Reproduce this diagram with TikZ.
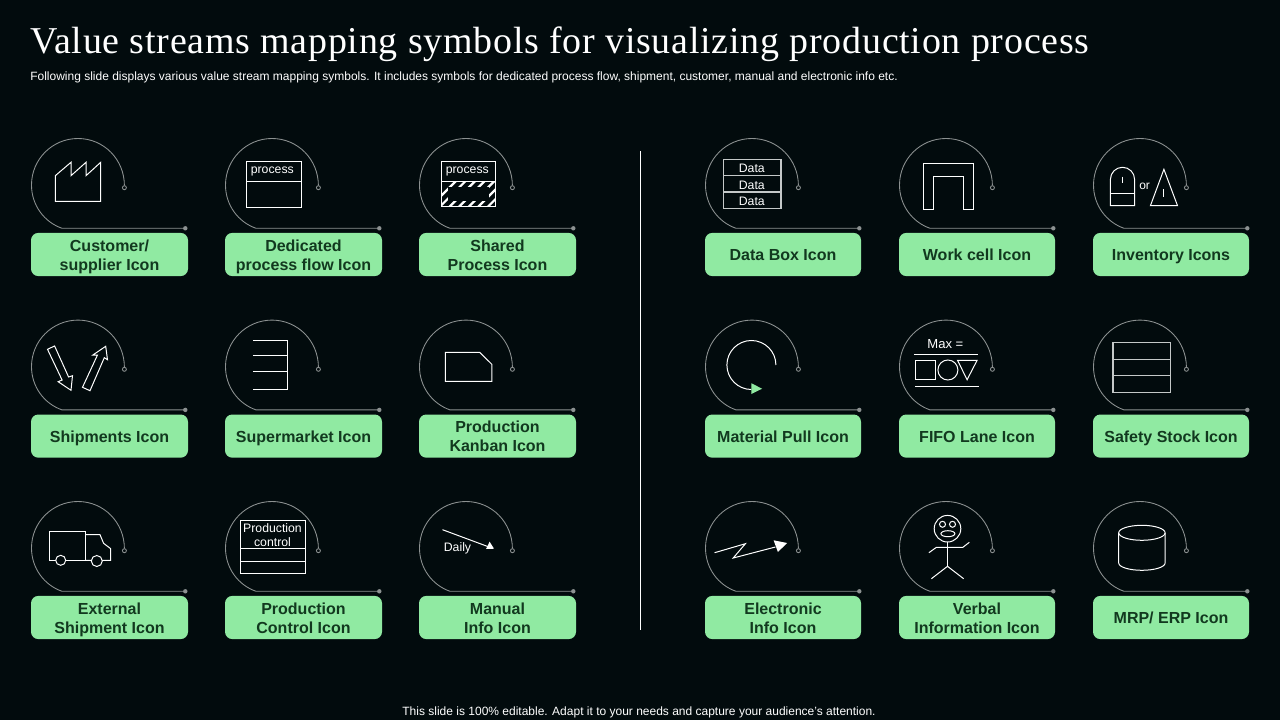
\documentclass[tikz,border=0pt]{standalone}
\usepackage{fontspec}
\setmainfont{Liberation Sans}
\newfontfamily\titlefont[LetterSpace=2.0]{Liberation Serif}
\usetikzlibrary{calc}
\definecolor{bgc}{HTML}{020B0D}
\definecolor{cardc}{HTML}{90EAA2}
\definecolor{cardt}{HTML}{12391F}
\definecolor{ringc}{HTML}{8C9191}
\definecolor{softw}{HTML}{C4C8C8}
\newcommand{\lblstrut}{\rule[-2.8pt]{0pt}{11pt}}
\newcommand{\cardline}[1]{\lblstrut #1\lblstrut}
\tikzset{
  ring/.style={draw=ringc,line width=0.65pt},
  ico/.style={draw=white,line width=0.75pt,line join=miter},
  icosoft/.style={draw=softw,line width=1pt},
  cardback/.style={fill=cardc,rounded corners=5.5pt,inner sep=0pt,minimum height=32.4pt},
  cardtext/.style={inner sep=0pt,align=center,text=cardt,font=\fontsize{12}{14.2}\selectfont\bfseries},
  icotext/.style={text=white,inner sep=0pt,font=\fontsize{9.2}{11}\selectfont},
}
\newcommand{\ringcard}[5]{% name, dx, dy, width px, label
  \begin{scope}[shift={(#2,#3)}]
    \draw[ring] (124.4,185.7) .. controls (124.4,159.3) and (103.7,138.5) .. (78,138.5)
      .. controls (52.3,138.5) and (31.5,159.3) .. (31.5,185)
      .. controls (31.5,205) and (44,222) .. (62,228.3) -- (185.3,228.3);
    \draw[ring,fill=bgc] (124.4,187.7) circle[radius=2];
    \fill[ringc] (185.3,228.3) circle[radius=2.2];
    \node[cardback,minimum width=#4*0.75pt] (#1) at (31+#4/2,254.5) {};
    \node[cardtext] (#1t) at (31+#4/2,256.9) {\cardline{#5}};
  \end{scope}}
\begin{document}
\begin{tikzpicture}[x=0.75pt,y=-0.75pt]
\useasboundingbox (0,0) rectangle (1280,720);
\fill[bgc] (0,0) rectangle (1280,720);
\node[anchor=base west,inner sep=0pt,text=white] (title) at (30,53.5)
  {\fontsize{28.45}{30}\selectfont\titlefont Value streams mapping symbols for visualizing production process};
\node[anchor=base west,inner sep=0pt,text=white] (sub) at (30,80.5)
  {\fontsize{9}{11}\selectfont Following slide displays various value stream mapping symbols. It includes symbols for dedicated process flow, shipment, customer, manual and electronic info etc.};
\node[anchor=base,inner sep=0pt,text=white] (foot) at (639,715)
  {\fontsize{9}{11}\selectfont This slide is 100\% editable. Adapt it to your needs and capture your audience's attention.};
\draw[draw=white,line width=0.7pt] (640.5,151) -- (640.5,630);

\ringcard{c11}{0}{0}{157}{Customer/\\\lblstrut supplier Icon}
\ringcard{c12}{194}{0}{157}{Dedicated\\\lblstrut process flow Icon}
\ringcard{c13}{388}{0}{157}{Shared\\\lblstrut Process Icon}
\ringcard{c14}{674}{0}{156}{Data Box Icon}
\ringcard{c15}{868}{0}{156}{Work cell Icon}
\ringcard{c16}{1062}{0}{156}{Inventory Icons}
\ringcard{c21}{0}{181.6}{157}{Shipments Icon}
\ringcard{c22}{194}{181.6}{157}{Supermarket Icon}
\ringcard{c23}{388}{181.6}{157}{Production\\\lblstrut Kanban Icon}
\ringcard{c24}{674}{181.6}{156}{Material Pull Icon}
\ringcard{c25}{868}{181.6}{156}{FIFO Lane Icon}
\ringcard{c26}{1062}{181.6}{156}{Safety Stock Icon}
\ringcard{c31}{0}{363}{157}{External\\\lblstrut Shipment Icon}
\ringcard{c32}{194}{363}{157}{Production\\\lblstrut Control Icon}
\ringcard{c33}{388}{363}{157}{Manual\\\lblstrut Info Icon}
\ringcard{c34}{674}{363}{156}{Electronic\\\lblstrut Info Icon}
\ringcard{c35}{868}{363}{156}{Verbal\\\lblstrut Information Icon}
\ringcard{c36}{1062}{363}{156}{MRP/ ERP Icon}

% factory
\draw[ico] (55.3,175.7) -- (55.3,201.3) -- (100.7,201.3) -- (100.7,162.3) -- (86,175.7) -- (86,162.3) -- (71,175.7) -- (71,162.3) -- cycle;
% dedicated process
\draw[ico] (246.3,161.3) rectangle (301.3,207.3);
\draw[ico] (246.3,181.3) -- (301.3,181.3);
\node[icotext] (t1) at (272.3,171) {process};
% shared process
\begin{scope}
  \clip (441.7,181.3) rectangle (495.7,206.3);
  \foreach \k in {0,...,9} {
    \draw[white,line width=1.7pt] ({428+\k*9.6},209) -- ({458+\k*9.6},179);
  }
\end{scope}
\fill[bgc] (447.5,187.3) rectangle (489.2,200.7);
\draw[ico] (441.7,161.3) rectangle (495.7,206.3);
\draw[ico] (441.7,181.3) -- (495.7,181.3);
\node[icotext] (t2) at (467.3,171) {process};
% data box
\draw[icosoft] (723.2,159.7) rectangle (781,208.7);
\draw[icosoft] (723.2,175.7) -- (781,175.7) (723.2,192) -- (781,192);
\node[icotext] (t3) at (751.8,168.2) {Data};
\node[icotext] (t4) at (751.8,185.2) {Data};
\node[icotext] (t5) at (751.8,201.2) {Data};
% work cell
\draw[ico] (923.2,209.7) -- (923.2,163.3) -- (973.2,163.3) -- (973.2,209.7) -- (963.2,209.7) -- (963.2,176.3) -- (933.2,176.3) -- (933.2,209.7) -- cycle;
% inventory
\draw[ico] (1110.4,205.7) -- (1110.4,179.4) arc[start angle=180,end angle=360,radius=12.1] -- (1134.6,205.7) -- cycle;
\draw[ico] (1110.4,193.3) -- (1134.6,193.3);
\draw[ico] (1122.5,176.7) -- (1122.5,183.3);
\node[icotext,font=\fontsize{9}{11}\selectfont] (t6) at (1144.6,186) {or};
\draw[ico] (1163.9,169.3) -- (1150.4,205.7) -- (1177.5,205.7) -- cycle;
\draw[ico] (1163.9,189.3) -- (1163.9,197.3);
% shipments
\draw[ico] (47.5,349.3) -- (54.6,346) -- (68.6,377) -- (72.5,375.7) -- (71,390.3) -- (58.2,381.7) -- (62.1,380) -- cycle;
\draw[ico] (105.7,346.3) -- (107.5,359.7) -- (104.3,357.7) -- (90,390.7) -- (82.5,387.3) -- (97.5,355) -- (92.9,355) -- cycle;
% supermarket
\draw[ico] (252.9,340.3) -- (287.5,340.3) -- (287.5,389.3) -- (252.9,389.3);
\draw[ico] (252.9,355.3) -- (287.5,355.3) (252.9,371.7) -- (287.5,371.7);
% kanban
\draw[ico] (445.4,352.3) -- (479.6,352.3) -- (491.8,364.3) -- (491.8,381.3) -- (445.4,381.3) -- cycle;
% material pull
\draw[ico] (775.9,365) arc[start angle=0,end angle=-270,radius=24.5];
\fill[cardc] (751.4,383.3) -- (751.4,394) -- (762.1,388.7) -- cycle;
% FIFO
\node[icotext,font=\fontsize{9.8}{11}\selectfont] (t7) at (945.4,343.8) {Max =};
\draw[ico] (913.9,354.3) -- (977.5,354.3) (915.4,386.3) -- (978.6,386.3);
\draw[ico] (915.4,360.3) rectangle (935.7,379.7);
\draw[ico] (947.9,370) circle[radius=10];
\draw[ico] (957.5,360.3) -- (977.1,360.3) -- (967.1,379.7) -- cycle;
% safety stock
\draw[icosoft] (1112.9,342.7) rectangle (1170.4,392.3);
\draw[icosoft] (1112.9,359.3) -- (1170.4,359.3) (1112.9,375.7) -- (1170.4,375.7);
% truck
\draw[ico] (49.3,531.3) rectangle (85.7,560.3);
\draw[ico] (85.7,534.7) -- (100,534.7) -- (103.6,543.3) -- (110.7,548.7) -- (110.7,560.3) -- (85.7,560.3);
\draw[ico,fill=bgc] (60.7,560.3) circle[radius=5];
\draw[ico,fill=bgc] (96.8,561) circle[radius=5.5];
% production control
\draw[ico] (240.4,520.7) rectangle (305.7,573.3);
\draw[ico] (240.4,548.7) -- (305.7,548.7) (240.4,561.3) -- (305.7,561.3);
\node[icotext] (t8) at (272.5,528) {Production};
\node[icotext] (t9) at (272.5,542) {control};
% daily
\draw[ico] (442.5,529.7) -- (488,546.6);
\fill[white] (494,548.7) -- (486.1,549) -- (489.6,541.7) -- cycle;
\node[icotext] (t10) at (457.5,548) {Daily};
% electronic info
\draw[ico] (714.6,552.7) -- (745.4,543.7) -- (733.2,558) -- (775.4,547);
\fill[white] (773.6,540.3) -- (787.1,543) -- (777.9,552) -- cycle;
% verbal
\draw[ico] (947.5,528.7) circle[radius=13.3];
\draw[ico] (942.5,524.3) circle[radius=3];
\draw[ico] (952.5,524.3) circle[radius=3];
\draw[ico] (947.9,533.7) ellipse[x radius=7,y radius=3];
\draw[ico] (947.5,542) -- (947.5,566.3);
\draw[ico] (928.9,552.7) -- (936.4,547.3) -- (962.9,547.3) -- (969.3,542.3);
\draw[ico] (931.4,578.7) -- (947.5,566.3) -- (963.6,578.7);
% cylinder
\draw[ico] (1141.9,532.8) ellipse[x radius=23.2,y radius=7.5];
\draw[ico] (1118.7,532.8) -- (1118.7,563) arc[start angle=180,end angle=0,x radius=23.2,y radius=7.3] -- (1165.1,532.8);
\end{tikzpicture}
\end{document}
